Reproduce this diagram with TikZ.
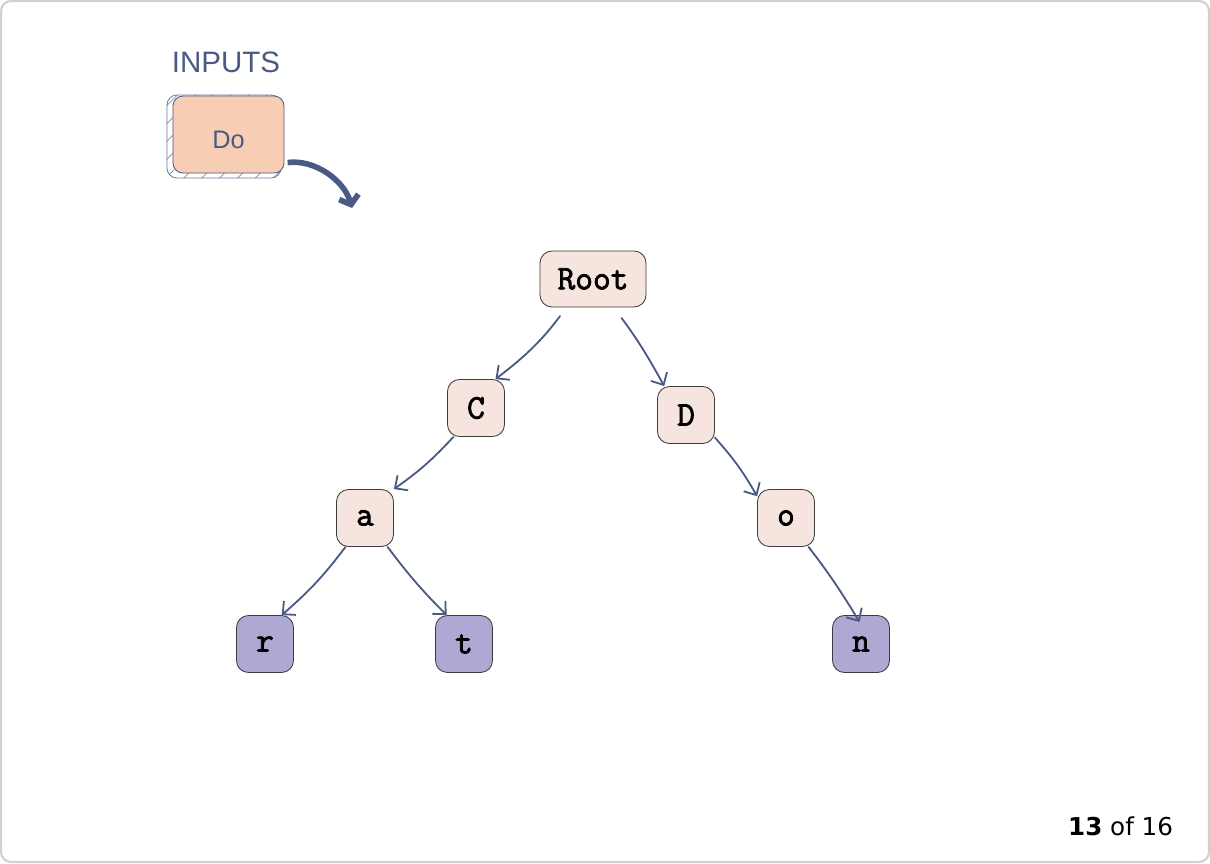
\documentclass[tikz,border=0pt]{standalone}
\usepackage{fontspec}
\setmainfont{Liberation Sans}
\newfontfamily\pagefont{DejaVu Sans}
\newfontfamily\triefont[FakeBold=2.2]{Latin Modern Mono}
\usetikzlibrary{arrows.meta,patterns.meta,positioning,calc}

\definecolor{slate}{HTML}{4B5A85}
\definecolor{nodepink}{HTML}{F6E4DE}
\definecolor{leafpurple}{HTML}{AFA8D2}
\definecolor{inputpeach}{HTML}{F7CDB4}
\definecolor{framegray}{HTML}{D0D0D0}
\definecolor{edgegray}{HTML}{3C3C3C}

\begin{document}
\begin{tikzpicture}[
    x=0.025cm, y=-0.025cm,
    trie/.style={rectangle, draw=edgegray, fill=nodepink, rounded corners=0.3cm, minimum width=1.425cm, minimum height=1.425cm, inner sep=0pt, line width=0.6pt, font=\triefont\fontsize{24.5}{27}\selectfont},
    leaf/.style={trie, fill=leafpurple},
    inputbox/.style={rectangle, draw=slate, fill=inputpeach, rounded corners=0.25cm, minimum width=2.775cm, minimum height=1.925cm, text height=20pt, text depth=0pt, line width=0.6pt, text=slate, font=\fontsize{18}{21}\selectfont},
    shadowbox/.style={rectangle, draw=slate!80, rounded corners=0.25cm, minimum width=2.85cm, minimum height=2.075cm, line width=0.6pt, pattern={Lines[angle=45,distance=9pt,line width=0.5pt]}, pattern color=slate!70},
    link/.style={-{Straight Barb[length=0.24cm,width=0.46cm]}, draw=slate, line width=1.3pt, line cap=round},
    bigarrow/.style={-{Straight Barb[length=0.2cm,width=0.5cm]}, draw=slate, line width=4pt}
]

\useasboundingbox (0,0) rectangle (1210,863);
\draw[framegray, line width=1.5pt, rounded corners=0.25cm] (1,1) rectangle (1209,862);

% Input
\node[text=slate, font=\fontsize{21}{24}\selectfont] (inputs) at (226,62) {INPUTS};
\node[shadowbox] (doshadow) at (224,136.5) {};
\node[inputbox] (do) at (228.5,134.5) {Do};
\coordinate (dotip) at (352,208);
\draw[bigarrow, shorten <=0.08cm] (do.-27) .. controls +(30,-4) and +(-8,-28) .. (dotip);

% Trie
\node[trie, minimum width=2.65cm, minimum height=1.4cm] (root) at (593,279) {Root};
\node[trie] (c) at (476,408) {C};
\node[trie] (d) at (686,415) {D};
\node[trie] (a) at (365,518) {a};
\node[trie] (o) at (786,518) {o};
\node[leaf] (r) at (265,644) {r};
\node[leaf] (t) at (464,644) {t};
\node[leaf] (n) at (861,644) {n};

\draw[link, shorten <=0.27cm] (root.227) to[bend left=8] (c.56);
\draw[link, shorten <=0.33cm] (root.306) to[bend left=4] (d.127);
\draw[link] (c.232) to[bend left=6] (a.45);
\draw[link] (a.236) to[bend left=6] (r.60);
\draw[link] (a.308) to[bend right=4] (t.121);
\draw[link] (d.322) to[bend left=6] (o.143);
\draw[link, shorten >=-0.2cm] (o.308) to[bend left=3] (n.101);

% Page number
\node[anchor=east, font=\pagefont\fontsize{17.5}{21}\selectfont] (page) at (1178,826) {\textbf{13} of 16};

\end{tikzpicture}
\end{document}
